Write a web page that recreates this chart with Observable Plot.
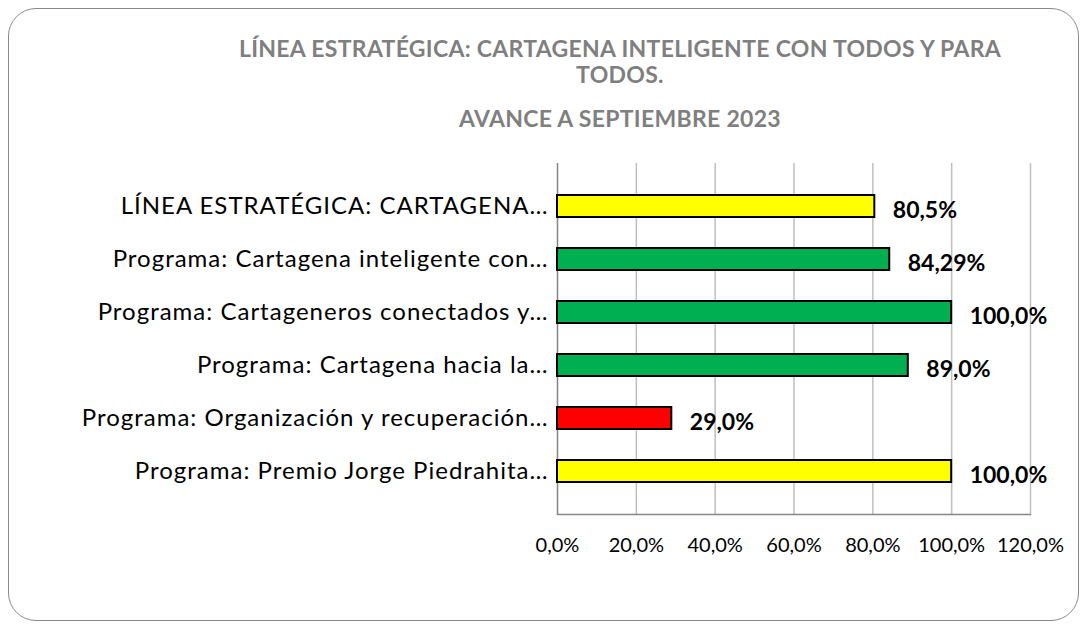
<!DOCTYPE html>
<html>
<head>
<meta charset="utf-8">
<script src="https://cdn.jsdelivr.net/npm/d3@7"></script>
<script src="https://cdn.jsdelivr.net/npm/@observablehq/plot@0.6"></script>
<style>
  html, body { margin: 0; padding: 0; background: #fff; }
  #wrap { position: relative; width: 1087px; height: 629px; overflow: hidden; font-family: Lato, "Open Sans", sans-serif; }
  #frame { position: absolute; left: 8px; top: 8px; width: 1069px; height: 611px; border: 1.5px solid #8a8a8a; border-radius: 28px; }
  #title { position: absolute; left: 0; width: 1240px; top: 0; text-align: center; color: #7f7f7f; font-weight: bold; font-size: 23px; letter-spacing: 0.3px; line-height: 24px; }
  #title div { position: absolute; left: 0; right: 0; }
  #chart { position: absolute; left: 0; top: 140px; }
  #chart svg g[aria-label="y-axis tick label"] text { letter-spacing: 1px; }
</style>
</head>
<body>
<div id="wrap">
  <div id="frame"></div>
  <div id="title">
    <div style="top:36px">LÍNEA ESTRATÉGICA: CARTAGENA INTELIGENTE CON TODOS Y PARA</div>
    <div style="top:62px">TODOS.</div>
    <div style="top:106px">AVANCE A SEPTIEMBRE 2023</div>
  </div>
  <div id="chart"></div>
</div>
<script>
const categories = [
  "LÍNEA ESTRATÉGICA: CARTAGENA…",
  "Programa: Cartagena inteligente con…",
  "Programa: Cartageneros conectados y…",
  "Programa: Cartagena hacia la…",
  "Programa: Organización y recuperación…",
  "Programa: Premio Jorge Piedrahita…"
];
const values = [80.5, 84.29, 100.0, 89.0, 29.0, 100.0];
const valueLabels = ["80,5%", "84,29%", "100,0%", "89,0%", "29,0%", "100,0%"];
const barColors = ["#ffff00", "#00b050", "#00b050", "#00b050", "#ff0000", "#ffff00"];
const xTicks = [0, 20, 40, 60, 80, 100, 120];

const data = categories.map((c, i) => ({cat: c, value: values[i], label: valueLabels[i], color: barColors[i]}));
const fmt = d => d.toFixed(1).replace(".", ",") + "%";

const chart = Plot.plot({
  width: 1087,
  height: 489,
  marginLeft: 557,
  marginRight: 57,
  marginTop: 23,
  marginBottom: 115,
  style: {fontFamily: "Lato, 'Open Sans', sans-serif", background: "transparent", color: "#000"},
  x: {domain: [0, 120], ticks: xTicks, tickFormat: fmt},
  y: {domain: categories, padding: 0.58, label: null},
  marks: [
    Plot.ruleX(xTicks.slice(1), {stroke: "#bfbfbf", strokeWidth: 1.5, strokeOpacity: 1}),
    Plot.frame({anchor: "bottom", stroke: "#868686", strokeWidth: 1.5}),
    Plot.ruleX([0], {stroke: "#868686", strokeWidth: 1.5}),
    Plot.barX(data, {y: "cat", x: "value", fill: "color", stroke: "#000", strokeWidth: 2}),
    Plot.text(data, {y: "cat", x: "value", text: "label", textAnchor: "start", dx: 18, dy: 4, fontWeight: "bold", fontSize: 23, fill: "#000"}),
    Plot.axisY({tickSize: 0, tickPadding: 9, fontSize: 24, label: null}),
    Plot.axisX({tickSize: 0, tickPadding: 23, fontSize: 20, label: null, ticks: xTicks, tickFormat: fmt})
  ]
});
document.getElementById("chart").appendChild(chart);
</script>
</body>
</html>
